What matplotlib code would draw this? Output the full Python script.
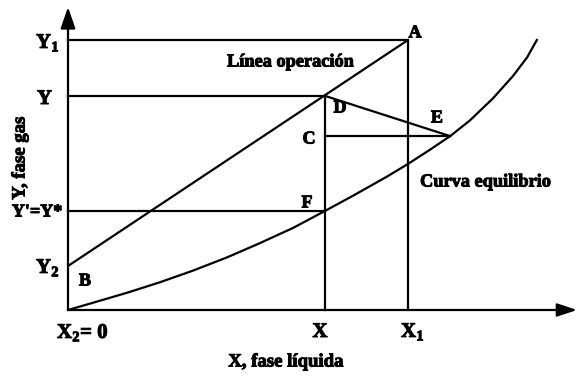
import matplotlib
matplotlib.use("Agg")
import matplotlib.pyplot as plt
import matplotlib.patheffects as pe

plt.rcParams["mathtext.fontset"] = "custom"
plt.rcParams["mathtext.rm"] = "Liberation Serif:bold"
plt.rcParams["mathtext.bf"] = "Liberation Serif:bold"

# Key compositions (gas phase Y, liquid phase X)
X1 = 1.0        # liquid leaving
X_mid = 0.756   # intermediate liquid composition
X2 = 0.0        # liquid entering
Y1 = 1.0        # gas entering
Y_mid = 0.793   # intermediate gas composition
Y_star = 0.367  # gas in equilibrium with X
Y2 = 0.163      # gas leaving
Y_C = 0.644     # level of point C / E
X_E = 1.124     # liquid composition at E

# Equilibrium curve read points
eq_x = [0.0, 0.074, 0.174, 0.271, 0.368, 0.468, 0.565, 0.662, 0.756, 0.838,
        0.938, 1.0, 1.065, 1.124, 1.182, 1.25, 1.309, 1.35, 1.379]
eq_y = [0.0, 0.027, 0.064, 0.103, 0.146, 0.195, 0.248, 0.304, 0.367, 0.423,
        0.494, 0.541, 0.594, 0.644, 0.702, 0.784, 0.867, 0.935, 1.0]

W, H = 579, 377
fig = plt.figure(figsize=(W / 100, H / 100), dpi=100)
ax = fig.add_axes([0, 0, 1, 1])
ax.set_xlim(-68 / 340, (W - 68) / 340)
ax.set_ylim((310 - H) / 270, 310 / 270)
ax.axis("off")

lw = 1.6
k = "black"
font = dict(family="Liberation Serif", weight="bold", color=k)
heavy = [pe.withStroke(linewidth=0.7, foreground=k)]

# Axes with arrow heads
ax.annotate("", xy=(0, 1.122), xytext=(0, 0),
            arrowprops=dict(arrowstyle="-|>,head_length=1.3,head_width=0.45",
                            lw=lw, color=k, shrinkA=0, shrinkB=0))
ax.annotate("", xy=(1.497, 0), xytext=(0, 0),
            arrowprops=dict(arrowstyle="-|>,head_length=1.2,head_width=0.4",
                            lw=lw, color=k, shrinkA=0, shrinkB=0))

# Operating line B -> A
ax.plot([X2, X1], [Y2, Y1], color=k, lw=lw, solid_capstyle="butt")
# Equilibrium curve
ax.plot(eq_x, eq_y, color=k, lw=lw, solid_joinstyle="round")

# Construction lines
ax.plot([0, X1], [Y1, Y1], color=k, lw=lw)
ax.plot([X1, X1], [0, Y1], color=k, lw=lw)
ax.plot([0, X_mid], [Y_mid, Y_mid], color=k, lw=lw)
ax.plot([X_mid, X_mid], [0, Y_mid], color=k, lw=lw)
ax.plot([0, X_mid], [Y_star, Y_star], color=k, lw=lw)
ax.plot([X_mid, X_E], [Y_C, Y_C], color=k, lw=lw)
ax.plot([X_mid, X_E], [Y_mid, Y_C], color=k, lw=lw)


def px(x, y):
    return ((x - 68) / 340, (310 - y) / 270)


def label(x, y, s, size, ha="center", va="center", **kw):
    ax.text(*px(x, y), s, fontsize=size, ha=ha, va=va,
            path_effects=heavy, **font, **kw)


# Axis labels
label(36, 48, r"$\mathrm{Y}_{\mathrm{1}}$", 15, ha="left", va="baseline")
label(37, 104, "Y", 15, ha="left", va="baseline")
label(37, 212, "Y'=Y*", 13)
label(36, 273, r"$\mathrm{Y}_{\mathrm{2}}$", 15, ha="left", va="baseline")
label(57, 338, r"$\mathrm{X}_{\mathrm{2}}$= 0", 15, ha="left", va="baseline")
label(320, 337, "X", 15, va="baseline")
label(401, 337, r"$\mathrm{X}_{\mathrm{1}}$", 15, ha="left", va="baseline")
label(20, 158, "Y, fase gas", 13.5, rotation=90)
label(286, 362, "X, fase líquida", 13.5)

# Point labels
label(415, 33, "A", 13)
label(85, 281, "B", 13)
label(309, 139, "C", 13)
label(340, 108, "D", 13)
label(437, 118, "E", 13)
label(307, 203, "F", 13)
label(291, 62, "Línea operación", 13.2)
label(486, 182, "Curva equilibrio", 13.2)

fig.savefig("out.png", dpi=100)
